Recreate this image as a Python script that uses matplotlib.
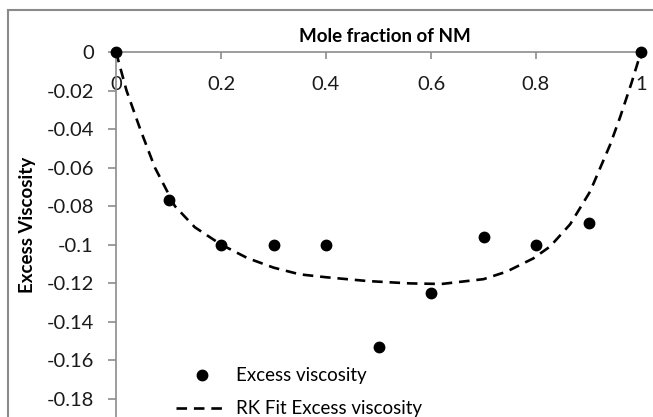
import matplotlib
matplotlib.use("Agg")
import matplotlib.pyplot as plt
from matplotlib.patches import Rectangle

plt.rcParams["font.family"] = ["Lato", "DejaVu Sans"]

# measured excess viscosity vs mole fraction of NM
mole_fraction = [0.0, 0.1, 0.2, 0.3, 0.4, 0.5, 0.6, 0.7, 0.8, 0.9, 1.0]
excess_visc = [0.0, -0.077, -0.100, -0.100, -0.100, -0.153, -0.125, -0.096, -0.100, -0.089, 0.0]

# RK fit curve
fit_x = [0.0, 0.02, 0.046, 0.074, 0.112, 0.15, 0.2, 0.25, 0.3, 0.35, 0.4, 0.48,
         0.56, 0.62, 0.7, 0.744, 0.795, 0.827, 0.865, 0.903, 0.941, 0.96, 0.982, 1.0]
fit_y = [0.0, -0.02, -0.04, -0.06, -0.08, -0.091, -0.1, -0.107, -0.112, -0.1155,
         -0.117, -0.119, -0.1202, -0.1205, -0.118, -0.1141, -0.1072, -0.101,
         -0.0895, -0.0725, -0.0483, -0.034, -0.016, 0.0]

x_ticks = [0, 0.2, 0.4, 0.6, 0.8, 1]
x_tick_labels = ["0", "0.2", "0.4", "0.6", "0.8", "1"]
y_ticks = [0, -0.02, -0.04, -0.06, -0.08, -0.1, -0.12, -0.14, -0.16, -0.18]
y_tick_labels = ["0", "-0.02", "-0.04", "-0.06", "-0.08", "-0.1", "-0.12",
                 "-0.14", "-0.16", "-0.18"]

axis_grey = "#8c8c8c"

fig = plt.figure(figsize=(6.53, 4.17), dpi=100)
ax = fig.add_axes([116 / 653, 0.0, 525 / 653, 1 - 52 / 417])

ax.plot(fit_x, fit_y, color="black", linestyle=(0, (4, 2.6)), linewidth=1.9,
        label="RK Fit Excess viscosity", zorder=2)
ax.plot(mole_fraction, excess_visc, linestyle="none", marker="o", markersize=7.5,
        color="black", label="Excess viscosity", zorder=3, clip_on=False)

ax.set_xlim(0, 1)
ax.set_ylim(-0.1896, 0)

for side in ["top", "right"]:
    ax.spines[side].set_visible(False)
ax.spines["bottom"].set_position(("data", 0))
ax.spines["bottom"].set_color(axis_grey)
ax.spines["left"].set_color(axis_grey)
ax.spines["bottom"].set_linewidth(1.2)
ax.spines["left"].set_linewidth(1.2)

ax.set_xticks(x_ticks)
ax.set_xticklabels(x_tick_labels)
ax.set_yticks(y_ticks)
ax.set_yticklabels(y_tick_labels)
ax.tick_params(axis="x", direction="out", length=5, width=1.2, color=axis_grey,
               labelsize=14.5, pad=12, labelcolor="#1a1a1a")
ax.tick_params(axis="y", direction="out", length=6, width=1.2, color=axis_grey,
               labelsize=14.5, pad=10, labelcolor="#1a1a1a")

fig.text(385 / 653, 1 - 36 / 417, "Mole fraction of NM", ha="center", va="center",
         fontsize=13.5, fontweight="bold")
fig.text(27 / 653, 1 - 225 / 417, "Excess Viscosity", ha="center", va="center",
         rotation=90, fontsize=13.5, fontweight="bold")

handles, labels = ax.get_legend_handles_labels()
leg = fig.legend(handles[::-1], labels[::-1], loc="upper left",
                 bbox_to_anchor=(167 / 653, 1 - 358 / 417), frameon=False,
                 fontsize=13.5, handlelength=2.7, handletextpad=0.5,
                 labelspacing=0.85, borderpad=0)

# outer chart-area border (cropped at right and bottom)
fig.patches.append(Rectangle((8 / 653, -0.1), 1.2, 1 - 10 / 417 + 0.1,
                             transform=fig.transFigure, fill=False,
                             edgecolor="#8a8a8a", linewidth=1.5))

fig.savefig("out.png", dpi=100)
